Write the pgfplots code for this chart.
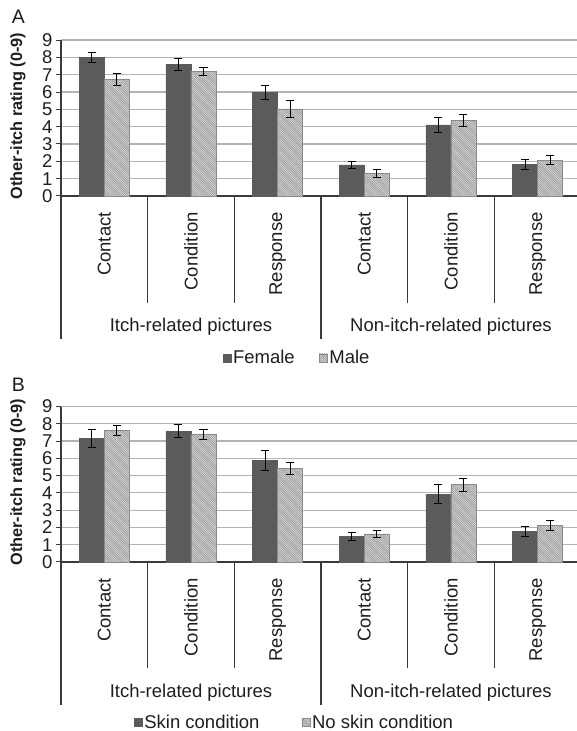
\documentclass[border=0pt]{standalone}
\usepackage{fontspec}
\setmainfont{Liberation Sans}
\usepackage{pgfplots}
\pgfplotsset{compat=1.18}
\usepackage{pgfplotstable}
\usetikzlibrary{patterns}
\definecolor{darkbar}{HTML}{5B5B5B}
\definecolor{lightbar}{HTML}{D9D9D9}
\definecolor{hatchc}{HTML}{9A9A9A}
\definecolor{edgec}{HTML}{8A8A8A}
\definecolor{gridc}{HTML}{B4B4B4}
\definecolor{axisc}{HTML}{3A3A3A}
\definecolor{textc}{HTML}{1E1E1E}

\pgfdeclarepatternformonly{fine nw lines}{\pgfqpoint{-1pt}{-1pt}}{\pgfqpoint{3.2pt}{3.2pt}}{\pgfqpoint{2.2pt}{2.2pt}}{%
  \pgfsetlinewidth{0.6pt}%
  \pgfpathmoveto{\pgfqpoint{-0.1pt}{2.3pt}}%
  \pgfpathlineto{\pgfqpoint{2.3pt}{-0.1pt}}%
  \pgfusepath{stroke}}

\pgfplotstableread{
x f fe m me
0 8.00 0.30 6.73 0.33
1 7.60 0.36 7.17 0.22
2 5.96 0.41 5.02 0.47
3 1.79 0.19 1.31 0.22
4 4.10 0.45 4.35 0.35
5 1.83 0.30 2.06 0.27
}\dataA

\pgfplotstableread{
x f fe m me
0 7.14 0.50 7.62 0.27
1 7.57 0.38 7.38 0.27
2 5.87 0.60 5.40 0.34
3 1.47 0.25 1.63 0.20
4 3.93 0.57 4.47 0.37
5 1.76 0.27 2.11 0.27
}\dataB

\newcommand{\bigfont}{\fontsize{18.5}{21}\selectfont}
\tikzset{sep/.style={axisc, line width=1.3pt}}

\pgfplotsset{
 panel/.style={
  scale only axis, width=520pt,
  xmin=-0.5, xmax=5.5, ymin=0, ymax=9,
  ybar=0pt, bar width=25pt,
  axis lines*=left,
  axis line style={axisc, line width=1.3pt},
  ymajorgrids, major grid style={gridc, line width=1.2pt},
  ytick={0,...,9},
  tick align=outside,
  ytick style={axisc, line width=1pt}, major tick length=5pt,
  xtick={0,...,5},
  xticklabels={Contact,Condition,Response,Contact,Condition,Response},
  xtick style={draw=none},
  xticklabel style={rotate=90, anchor=east, inner sep=0pt},
  xticklabel shift=11pt,
  /pgf/number format/assume math mode=true,
  tick label style={font=\bigfont, text=textc},
  ylabel={Other-itch rating (0-9)},
  ylabel style={font=\bfseries\fontsize{16.3}{19}\selectfont, text=textc,
    at={([xshift=-43pt,yshift=2pt]axis description cs:0,0.5)}, anchor=center},
  clip=false,
  legend image code/.code={\fill[#1] (0pt,-4pt) rectangle (8pt,4pt);},
  legend style={draw=none, fill=none, legend columns=2, font=\bigfont,
    text=textc, inner sep=0pt,
    nodes={inner sep=2pt}},
 },
 fbar/.style={fill=darkbar, draw=darkbar,
   error bars/y dir=both, error bars/y explicit,
   error bars/error bar style={black, line width=1pt},
   error bars/error mark options={black, line width=1pt, mark size=4pt, rotate=90}},
 mbar/.style={fill=lightbar, draw=edgec, line width=0.6pt,
   postaction={pattern=fine nw lines, pattern color=hatchc},
   error bars/y dir=both, error bars/y explicit,
   error bars/error bar style={black, line width=1pt},
   error bars/error mark options={black, line width=1pt, mark size=4pt, rotate=90}},
}

\begin{document}
\begin{tikzpicture}[x=1pt, y=1pt]
\path[use as bounding box] (0,0) rectangle (577,731);
\node[font=\fontsize{19.5}{22}\selectfont, text=textc, inner sep=0pt, anchor=north] at (18.5,721) {A};
\node[font=\fontsize{19.5}{22}\selectfont, text=textc, inner sep=0pt, anchor=north] at (18.5,353) {B};

\begin{axis}[panel, at={(61pt,535pt)}, anchor=south west, height=156pt,
  legend style={at={(axis description cs:0.454,-1.038)}, anchor=center,
    /tikz/every even column/.append style={column sep=22pt}}]
\addplot[fbar] table[x=x, y=f, y error=fe] {\dataA};
\addplot[mbar] table[x=x, y=m, y error=me] {\dataA};
\legend{Female, Male}
\pgfplotsinvokeforeach{0.5,1.5,3.5,4.5}{
  \draw[sep] (axis cs:#1,0) -- ([yshift=-107pt]axis cs:#1,0);
}
\pgfplotsinvokeforeach{-0.5,2.5,5.5}{
  \draw[sep] (axis cs:#1,0) -- ([yshift=-143pt]axis cs:#1,0);
}
\node[font=\bigfont, text=textc] at ([yshift=-131pt]axis cs:1,0) {Itch-related pictures};
\node[font=\bigfont, text=textc] at ([yshift=-131pt]axis cs:4,0) {Non-itch-related pictures};
\end{axis}

\begin{axis}[panel, at={(61pt,169pt)}, anchor=south west, height=155.5pt,
  legend style={at={(axis description cs:0.449,-1.032)}, anchor=center,
    /tikz/every even column/.append style={column sep=40pt}}]
\addplot[fbar] table[x=x, y=f, y error=fe] {\dataB};
\addplot[mbar] table[x=x, y=m, y error=me] {\dataB};
\legend{Skin condition, No skin condition}
\pgfplotsinvokeforeach{0.5,1.5,3.5,4.5}{
  \draw[sep] (axis cs:#1,0) -- ([yshift=-106pt]axis cs:#1,0);
}
\pgfplotsinvokeforeach{-0.5,2.5,5.5}{
  \draw[sep] (axis cs:#1,0) -- ([yshift=-143pt]axis cs:#1,0);
}
\node[font=\bigfont, text=textc] at ([yshift=-131pt]axis cs:1,0) {Itch-related pictures};
\node[font=\bigfont, text=textc] at ([yshift=-131pt]axis cs:4,0) {Non-itch-related pictures};
\end{axis}
\end{tikzpicture}
\end{document}
